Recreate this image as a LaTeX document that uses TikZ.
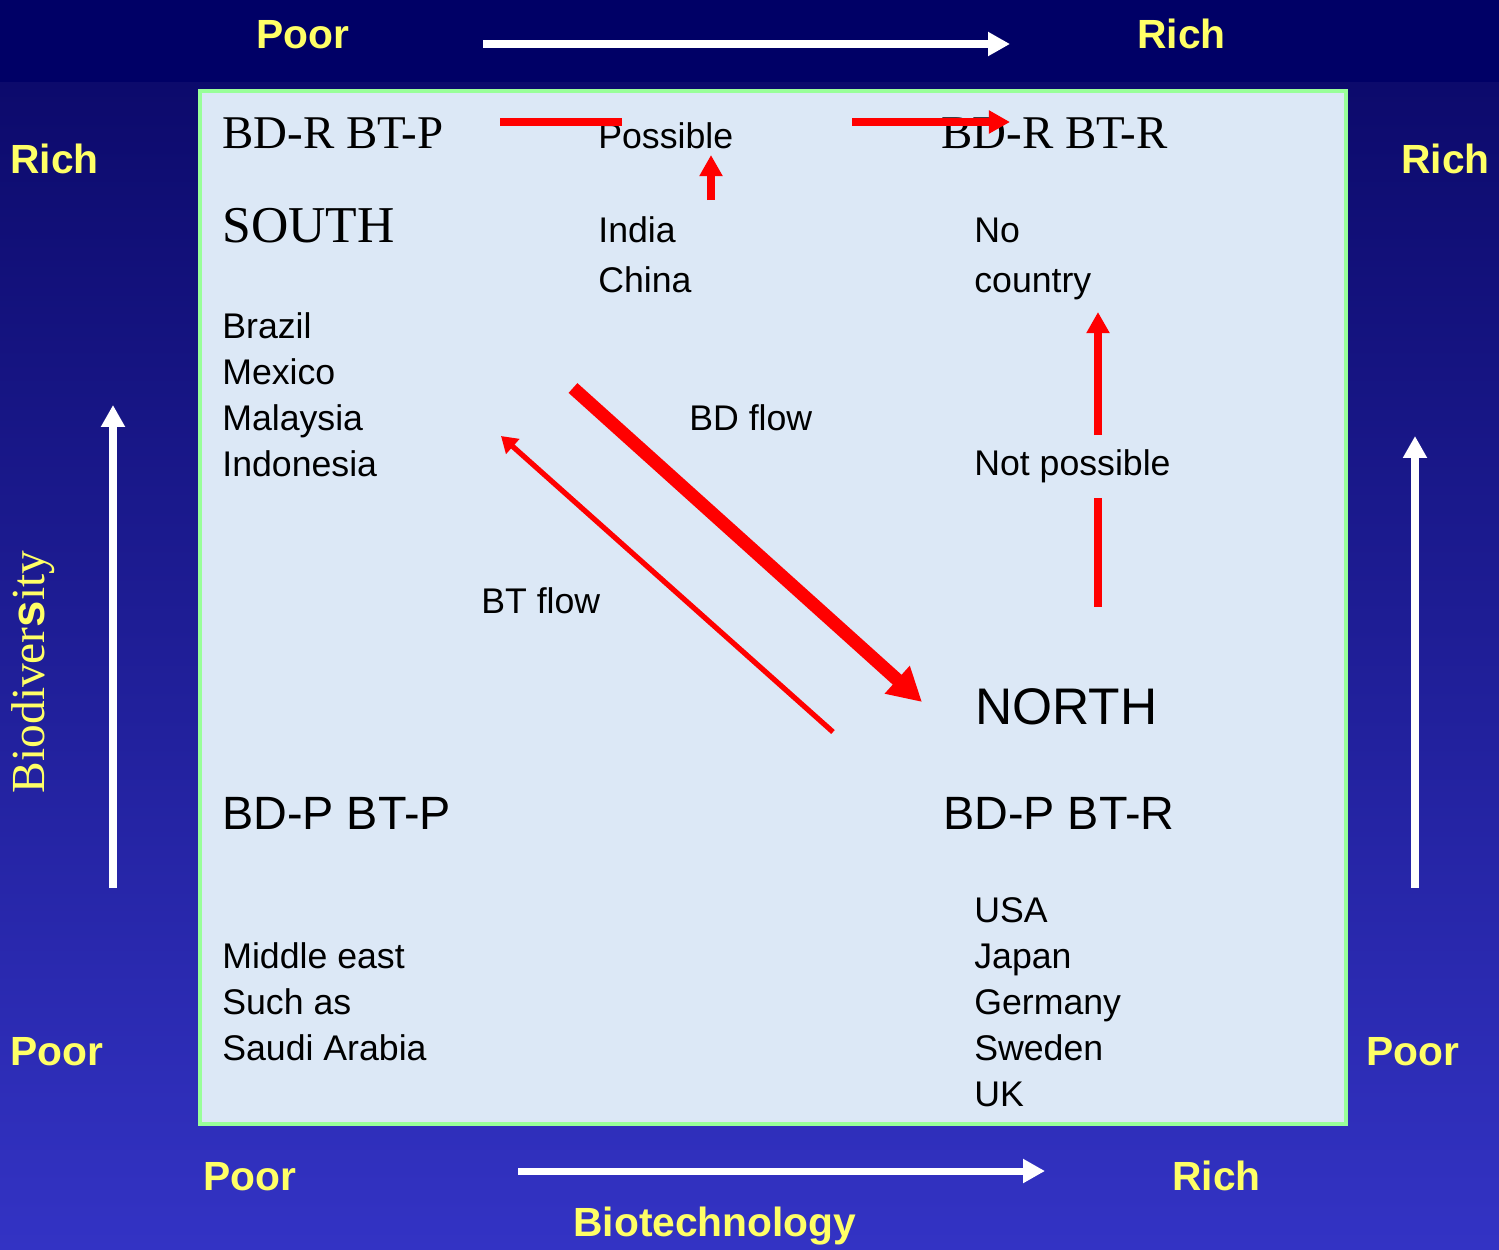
\documentclass[tikz,border=0pt]{standalone}
\usepackage{fontspec}
\setmainfont{Liberation Serif}
\setsansfont{Liberation Sans}
\usetikzlibrary{positioning, arrows.meta}
\definecolor{bandtop}{RGB}{0,0,102}
\definecolor{skytop}{RGB}{12,10,108}
\definecolor{skybottom}{RGB}{51,51,196}
\definecolor{labelyellow}{RGB}{255,255,102}
\definecolor{boxgreen}{RGB}{153,255,153}
\definecolor{boxfill}{RGB}{220,232,246}
\definecolor{flowred}{RGB}{255,0,0}
\tikzset{
axislabel/.style={anchor=base west, inner sep=0pt, text=labelyellow, font=\sffamily\bfseries\fontsize{23.2}{27}\selectfont}, % yellow Poor / Rich labels
bioaxis/.style={rotate=90, inner sep=0pt, text=labelyellow, font=\fontsize{27}{31}\selectfont},
serifhead/.style={anchor=base west, inner sep=0pt, font=\fontsize{26.7}{30}\selectfont},
sanshead/.style={anchor=base west, inner sep=0pt, font=\sffamily\fontsize{26.6}{30}\selectfont},
bigname/.style={anchor=base west, inner sep=0pt, font=\fontsize{29.4}{33}\selectfont},
country/.style={anchor=base west, inner sep=0pt, font=\sffamily\fontsize{20.3}{24}\selectfont}, % plain black text in the box
whitearrow/.style={draw=white, line width=4pt, -{Triangle[length=12.5pt,width=13pt]}},
redline/.style={draw=flowred, line width=4pt},
redarrow/.style={redline, -{Triangle[length=12pt,width=12.5pt]}},
bdarrow/.style={draw=flowred, line width=7.5pt, -{Triangle[length=19pt,width=20pt]}},
btarrow/.style={draw=flowred, line width=3pt, -{Triangle[length=9pt,width=11pt]}},
}
\begin{document}
\begin{tikzpicture}[x=0.02cm, y=-0.02cm] % one unit is one pixel of the slide
  \useasboundingbox (0,0) rectangle (1499,1249);
  \shade[top color=skytop, bottom color=skybottom] (0,82) rectangle (1499,1249);
  \fill[bandtop] (0,0) rectangle (1499,82);
  \filldraw[draw=boxgreen, fill=boxfill, line width=2.5pt] (200,91) rectangle (1346,1124);

  % axis labels
  \node[axislabel] (poortop) at (256,48) {Poor};
  \node[axislabel] (richtop) at (1137,48) {Rich};
  \node[axislabel] (richleft) at (10,173) {Rich};
  \node[axislabel] (richright) at (1401,173) {Rich};
  \node[axislabel] (poorleft) at (10,1065) {Poor};
  \node[axislabel] (poorright) at (1366,1065) {Poor};
  \node[axislabel] (poorbottom) at (203,1190) {Poor};
  \node[axislabel] (richbottom) at (1172,1190) {Rich};
  \node[axislabel] (biotech) at (573,1236) {Biotechnology};
  \node[bioaxis] (biodiv) at (33,672) {Biodiver{\sffamily\bfseries s}ity};

  % quadrant headings
  \node[serifhead] (rpquad) at (222,148) {BD-R BT-P};
  \node[serifhead] (rrquad) at (941,148) {BD-R BT-R};
  \node[bigname] (south) at (222,242) {SOUTH};
  \node[bigname, font=\sffamily\fontsize{29.3}{33}\selectfont] (north) at (975,724) {NORTH};
  \node[sanshead] (ppquad) at (222,829) {BD-P BT-P};
  \node[sanshead] (prquad) at (943,829) {BD-P BT-R};

  % countries and flow labels
  \node[country] (possible) at (598,148) {Possible};
  \node[country] (india) at (598,242) {India};
  \node[country] (china) at (598,292) {China};
  \node[country] (no) at (974,242) {No};
  \node[country] (nocountry) at (974,292) {country};
  \node[country] (brazil) at (222,338) {Brazil};
  \node[country] (mexico) at (222,384) {Mexico};
  \node[country] (malaysia) at (222,430) {Malaysia};
  \node[country] (indonesia) at (222,476) {Indonesia};
  \node[country] (bdflow) at (689,430) {BD flow};
  \node[country] (notpossible) at (974,475) {Not possible};
  \node[country] (btflow) at (481,613) {BT flow};
  \node[country] (mideast) at (222,968) {Middle east};
  \node[country] (suchas) at (222,1014) {Such as};
  \node[country] (saudi) at (222,1060) {Saudi Arabia};
  \node[country] (usa) at (974,922) {USA};
  \node[country] (japan) at (974,968) {Japan};
  \node[country] (germany) at (974,1014) {Germany};
  \node[country] (sweden) at (974,1060) {Sweden};
  \node[country] (uk) at (974,1106) {UK};

  % arrow ends
  \coordinate (wtS) at (483,44);   \coordinate (wtE) at (1010,44);
  \coordinate (wbS) at (518,1171); \coordinate (wbE) at (1045,1171);
  \coordinate (wlS) at (113,888);  \coordinate (wlE) at (113,405);
  \coordinate (wrS) at (1415,888); \coordinate (wrE) at (1415,436);
  \coordinate (rtS) at (500,122);  \coordinate (rtE) at (622,122);
  \coordinate (raS) at (852,122);  \coordinate (raE) at (1010,122);
  \coordinate (ruS) at (711,200);  \coordinate (ruE) at (711,155);
  \coordinate (rvS) at (1098,435); \coordinate (rvE) at (1098,312);
  \coordinate (rsS) at (1098,498); \coordinate (rsE) at (1098,607);
  \coordinate (bdS) at (573,388);  \coordinate (bdE) at (922,702);
  \coordinate (btS) at (833,732);  \coordinate (btE) at (501,436);

  \draw (wtS) edge[whitearrow] (wtE)
        (wbS) edge[whitearrow] (wbE)
        (wlS) edge[whitearrow] (wlE)
        (wrS) edge[whitearrow] (wrE)
        (rtS) edge[redline] (rtE)
        (raS) edge[redarrow] (raE)
        (ruS) edge[redarrow] (ruE)
        (rvS) edge[redarrow] (rvE)
        (rsS) edge[redline] (rsE)
        (bdS) edge[bdarrow] (bdE)
        (btS) edge[btarrow] (btE);

\end{tikzpicture}
\end{document}
